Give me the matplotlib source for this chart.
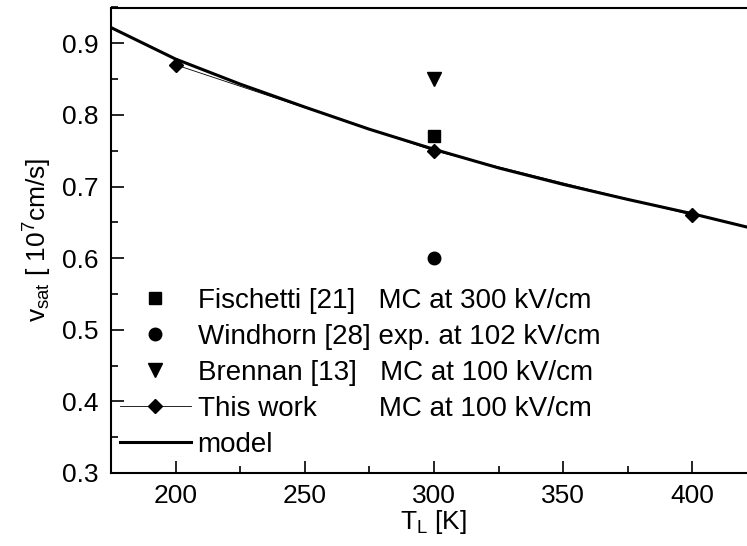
import numpy as np
import matplotlib
matplotlib.use("Agg")
import matplotlib.pyplot as plt
from matplotlib.ticker import MultipleLocator

plt.rcParams['font.family'] = ['Liberation Sans', 'DejaVu Sans']
plt.rcParams['mathtext.fontset'] = 'custom'
plt.rcParams['mathtext.rm'] = 'Liberation Sans'
plt.rcParams['mathtext.it'] = 'Liberation Sans'

# data
t_fischetti = [300]
v_fischetti = [0.77]
t_windhorn = [300]
v_windhorn = [0.60]
t_brennan = [300]
v_brennan = [0.85]
t_this = [200, 300, 400]
v_this = [0.87, 0.75, 0.66]
t_model = [175, 200, 225, 250, 275, 300, 325, 350, 375, 400, 425]
v_model = [0.922, 0.878, 0.843, 0.811, 0.780, 0.752, 0.726, 0.703, 0.682, 0.662, 0.640]

fig = plt.figure(figsize=(7.47, 5.46), dpi=100)
ax = fig.add_axes([111 / 747, 73 / 546, 646 / 747, 465.5 / 546])

ax.plot(t_fischetti, v_fischetti, ls='none', marker='s', ms=8, color='black',
        label='Fischetti [21]   MC at 300 kV/cm')
ax.plot(t_windhorn, v_windhorn, ls='none', marker='o', ms=9, color='black',
        label='Windhorn [28] exp. at 102 kV/cm')
ax.plot(t_brennan, v_brennan, ls='none', marker='v', ms=10, color='black',
        label='Brennan [13]   MC at 100 kV/cm')
ax.plot(t_this, v_this, ls='-', lw=0.6, marker='D', ms=7.5, color='black',
        label='This work        MC at 100 kV/cm')
ax.plot(t_model, v_model, ls='-', lw=2.2, color='black', label='model')

ax.set_xlim(175, 425)
ax.set_ylim(0.3, 0.95)
ax.xaxis.set_major_locator(MultipleLocator(50))
ax.xaxis.set_minor_locator(MultipleLocator(25))
ax.yaxis.set_major_locator(MultipleLocator(0.1))
ax.yaxis.set_minor_locator(MultipleLocator(0.05))
ax.tick_params(which='both', direction='in', labelsize=19, width=1.2)
ax.tick_params(which='major', length=9)
ax.tick_params(which='minor', length=5)
ax.tick_params(axis='x', pad=8)
ax.tick_params(axis='y', pad=9)
for s in ax.spines.values():
    s.set_linewidth(1.5)
ax.spines['right'].set_visible(False)

ax.set_xlabel(r'T$_\mathregular{L}$ [K]', fontsize=19, labelpad=0)
ax.set_ylabel(r'v$_\mathregular{sat}$ [ 10$^\mathregular{7}$cm/s]', fontsize=19, labelpad=6)

ax.legend(loc='lower left', bbox_to_anchor=(0.005, 0.02), frameon=False,
          fontsize=20, handlelength=2.55, handletextpad=0.25, labelspacing=0.36,
          borderaxespad=0.0, borderpad=0.2)

fig.savefig('out.png', dpi=100)
